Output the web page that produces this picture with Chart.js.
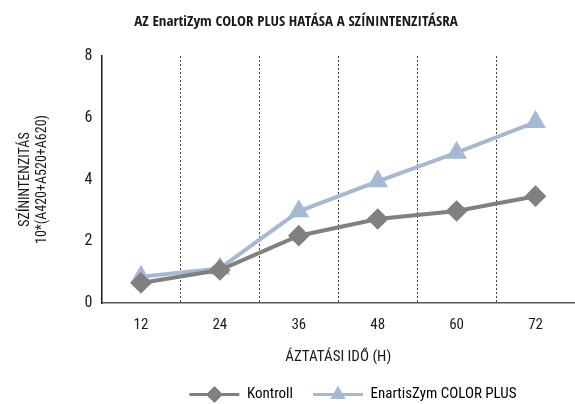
<!DOCTYPE html>
<html>
<head>
<meta charset="utf-8">
<script src="https://cdn.jsdelivr.net/npm/chart.js@4/dist/chart.umd.min.js"></script>
<style>
  html, body { margin: 0; padding: 0; background: #fff; }
  #wrap { width: 575px; height: 404px; }
</style>
</head>
<body>
<div id="wrap"><canvas id="chart"></canvas></div>
<script>
const hours = ['12', '24', '36', '48', '60', '72'];
const kontroll = [0.65, 1.07, 2.18, 2.72, 2.98, 3.46];
const enartis = [0.85, 1.12, 2.97, 3.94, 4.87, 5.86];
const yTicks = [0, 2, 4, 6, 8];

const FONT = '"Roboto Condensed", "Open Sans Condensed", sans-serif';
const TITLE_FONT = '"Open Sans Condensed", "Roboto Condensed", sans-serif';
const GRAY = '#808080';
const BLUE = '#a5b9d3';
const TEXT = '#1a1a1a';

// legend sits right of centre in the original, move it over
const legendShift = {
  id: 'legendShift',
  afterLayout(chart) {
    if (chart.legend) chart.legend.left += 114;
  }
};

// draws the marker on top of each legend line
const legendMarkers = {
  id: 'legendMarkers',
  afterDraw(chart) {
    const legend = chart.legend;
    if (!legend || !legend.legendHitBoxes) return;
    const ctx = chart.ctx;
    legend.legendHitBoxes.forEach(function (box, i) {
      const ds = chart.data.datasets[i];
      const x = box.left + legend.options.labels.boxWidth / 2;
      const y = box.top + box.height / 2;
      ctx.save();
      ctx.fillStyle = ds.pointBackgroundColor;
      ctx.strokeStyle = ds.pointBackgroundColor;
      Chart.helpers.drawPoint(ctx, {
        pointStyle: ds.pointStyle,
        radius: ds.pointRadius,
        borderWidth: 1
      }, x, y);
      ctx.restore();
    });
  }
};

new Chart(document.getElementById('chart'), {
  type: 'line',
  data: {
    labels: hours,
    datasets: [
      {
        label: 'Kontroll',
        data: kontroll,
        borderColor: GRAY,
        backgroundColor: GRAY,
        pointBackgroundColor: GRAY,
        pointBorderColor: GRAY,
        pointStyle: 'rectRot',
        pointRadius: 8,
        borderWidth: 4,
        fill: false
      },
      {
        label: 'EnartisZym COLOR PLUS',
        data: enartis,
        borderColor: BLUE,
        backgroundColor: BLUE,
        pointBackgroundColor: BLUE,
        pointBorderColor: BLUE,
        pointStyle: 'triangle',
        pointRadius: 8,
        borderWidth: 4,
        fill: false
      }
    ]
  },
  options: {
    responsive: true,
    maintainAspectRatio: false,
    animation: false,
    layout: { autoPadding: false, padding: { left: 17, right: 0, top: 0, bottom: -8 } },
    plugins: {
      title: {
        display: true,
        text: 'AZ EnartiZym COLOR PLUS HATÁSA A SZÍNINTENZITÁSRA',
        color: TEXT,
        font: { family: TITLE_FONT, size: 15, weight: 'bold' },
        padding: { top: 13, bottom: 25 }
      },
      legend: {
        position: 'bottom',
        labels: {
          color: TEXT,
          font: { family: FONT, size: 15 },
          boxWidth: 50,
          boxHeight: 3,
          padding: 20,
          generateLabels(chart) {
            return chart.data.datasets.map(function (ds, i) {
              return {
                text: ds.label,
                fillStyle: ds.borderColor,
                strokeStyle: ds.borderColor,
                lineWidth: 0,
                datasetIndex: i
              };
            });
          }
        }
      },
      tooltip: { enabled: false }
    },
    scales: {
      x: {
        offset: true,
        grid: {
          offset: true,
          color: '#444',
          lineWidth: 1,
          drawTicks: false
        },
        border: { display: true, color: '#595959', width: 1.5, dash: [2, 2] },
        ticks: { color: TEXT, font: { family: FONT, size: 15 }, padding: 13 },
        title: {
          display: true,
          text: 'ÁZTATÁSI IDŐ (H)',
          color: TEXT,
          font: { family: FONT, size: 15 },
          padding: { top: 1, bottom: 1 }
        }
      },
      y: {
        min: 0,
        max: 8,
        afterBuildTicks(scale) {
          scale.ticks = yTicks.map(function (v) { return { value: v }; });
        },
        grid: { display: false, drawTicks: false },
        border: { display: true, color: '#1a1a1a', width: 1.5 },
        ticks: { color: TEXT, font: { family: FONT, size: 16 }, padding: 9 },
        title: {
          display: true,
          text: ['SZÍNINTENZITÁS', '10*(A420+A520+A620)'],
          color: TEXT,
          font: { family: FONT, size: 14 },
          padding: { top: 0, bottom: 25 }
        }
      }
    }
  },
  plugins: [legendShift, legendMarkers]
});
</script>
</body>
</html>
